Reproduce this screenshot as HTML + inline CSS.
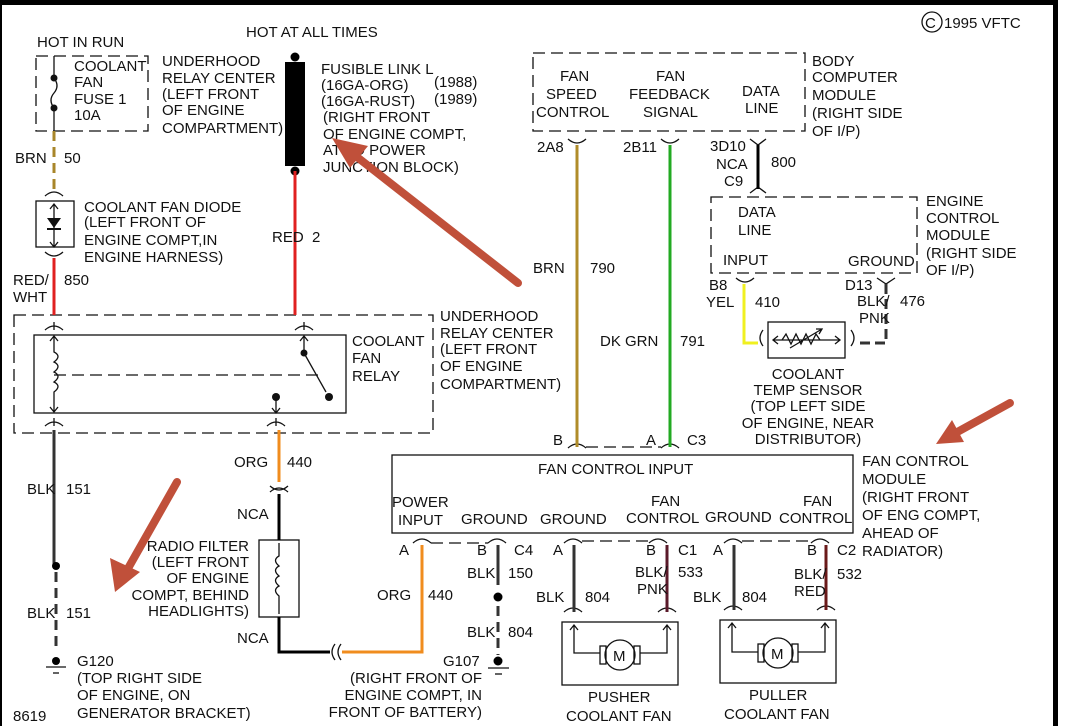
<!DOCTYPE html>
<html><head><meta charset="utf-8"><style>
html,body{margin:0;padding:0;background:#fff;}
svg{display:block;}
text{font-family:"Liberation Sans",sans-serif;font-size:15px;fill:#111;}
</style></head><body>
<svg width="1076" height="726" viewBox="0 0 1076 726" xmlns="http://www.w3.org/2000/svg">
<rect x="0" y="0" width="1076" height="726" fill="#fff"/>
<rect x="0" y="0" width="1058" height="5" fill="#000"/>
<rect x="1053" y="0" width="5" height="726" fill="#000"/>
<rect x="0" y="0" width="2" height="726" fill="#000"/>

<g fill="none" stroke="#111" stroke-width="1.3">
<path d="M36 56 H148 V131 H36 Z" stroke-dasharray="12,6"/>
<path d="M14 315 H433 V433 H14 Z" stroke-dasharray="12,6"/>
<path d="M533 53 H805 V131 H533 Z" stroke-dasharray="12,6"/>
<path d="M711 197 H917 V273 H711 Z" stroke-dasharray="12,6"/>
<rect x="36" y="201" width="38" height="46"/>
<rect x="34" y="335" width="312" height="78"/>
<rect x="259" y="540" width="40" height="77"/>
<rect x="392" y="455" width="461" height="78"/>
<rect x="562" y="622" width="116" height="63"/>
<rect x="720" y="620" width="116" height="63"/>
<rect x="768" y="322" width="77" height="36"/>
</g>

<g stroke="#111" stroke-width="1.3" fill="none">
<line x1="54" y1="56" x2="54" y2="78"/>
<path d="M54 78 q6 8 0 15 q-6 7 0 15"/>
<line x1="54" y1="108" x2="54" y2="131"/>
</g>
<circle cx="54" cy="78" r="3.5" fill="#111"/><circle cx="54" cy="108" r="3.5" fill="#111"/>
<line x1="54" y1="131" x2="54" y2="190" stroke="#a8862a" stroke-width="3" stroke-dasharray="10,6"/>
<g stroke="#111" stroke-width="1.3" fill="none">
<path d="M45 196 q9 -8 18 0"/>
<path d="M45 252 q9 8 18 0"/>
<path d="M54 204 V247 M50 209 L54 204 L58 209 M50 242 L54 247 L58 242"/>
</g>
<polygon points="47,218 61,218 54,228" fill="#111"/><line x1="47" y1="229" x2="61" y2="229" stroke="#111" stroke-width="2"/>
<line x1="54" y1="258" x2="54" y2="315" stroke="#e02020" stroke-width="3"/>

<rect x="285" y="62" width="20" height="104" fill="#000"/>
<circle cx="295" cy="57" r="4.5" fill="#000"/><circle cx="295" cy="171" r="4.5" fill="#000"/>
<line x1="295" y1="171" x2="295" y2="315" stroke="#e02020" stroke-width="3"/>

<g stroke="#111" stroke-width="1.3" fill="none">
<path d="M45 330 q9 -8 18 0 M54 322 V330"/>
<path d="M295 330 q9 -8 18 0 M304 322 V330"/>
<path d="M54 336 V352 q8 4 0 10 q8 4 0 10 q8 4 0 10 q8 4 0 10 V412 M50 341 L54 336 L58 341 M50 407 L54 412 L58 407"/>
<path d="M54 375 H318" stroke-dasharray="12,6"/>
<path d="M304 336 V353 M300 341 L304 336 L308 341"/>
<path d="M304 353 L326 392"/>
<path d="M276 397 V413 M272 408 L276 413 L280 408"/>
<path d="M45 426 q9 -8 18 0 M54 418 V426"/>
<path d="M267 426 q9 -8 18 0 M276 418 V426"/>
</g>
<circle cx="304" cy="353" r="3.5" fill="#111"/><circle cx="329" cy="397" r="4" fill="#111"/><circle cx="276" cy="397" r="4" fill="#111"/>

<line x1="54" y1="430" x2="54" y2="565" stroke="#333" stroke-width="3"/>
<circle cx="56" cy="566" r="4" fill="#000"/>
<line x1="56" y1="572" x2="56" y2="650" stroke="#333" stroke-width="3" stroke-dasharray="10,6"/>
<circle cx="56" cy="661" r="4" fill="#000"/>
<g stroke="#111" stroke-width="1.3"><line x1="46" y1="667" x2="66" y2="667"/><line x1="53" y1="673" x2="59" y2="673"/></g>

<line x1="279" y1="430" x2="279" y2="482" stroke="#f08c1e" stroke-width="3"/>
<g stroke="#111" stroke-width="1.3" fill="none"><path d="M270 486 q9 8 18 0 M270 492 q9 -8 18 0"/></g>
<polyline points="279,494 279,540" stroke="#000" stroke-width="3" fill="none"/>
<g stroke="#111" stroke-width="1.3" fill="none"><path d="M279 543 V556 q-7 4 0 10 q-7 4 0 10 q-7 4 0 10 q-7 4 0 10 V614"/></g>
<polyline points="279,617 279,652 330,652" stroke="#000" stroke-width="3" fill="none"/>
<g stroke="#111" stroke-width="1.3" fill="none"><path d="M335 644 q-6 8 0 16 M341 644 q-6 8 0 16"/></g>
<polyline points="342,652 422,652 422,545" stroke="#f08c1e" stroke-width="3" fill="none"/>

<g stroke="#111" stroke-width="1.3" fill="none">
<path d="M413 543 q9 -8 18 0 M488 543 q9 -8 18 0 M564 543 q9 -8 18 0 M649 543 q9 -8 18 0 M724 543 q9 -8 18 0 M811 543 q9 -8 18 0"/>
<path d="M431 543 H488 M582 541 H649 M742 541 H811" stroke-dasharray="12,6"/>
<path d="M564 612 q9 -8 18 0 M658 612 q9 -8 18 0 M724 610 q9 -8 18 0 M817 610 q9 -8 18 0"/>
</g>
<line x1="498" y1="545" x2="498" y2="585" stroke="#333" stroke-width="3"/>
<circle cx="498" cy="597" r="4.5" fill="#000"/>
<line x1="498" y1="606" x2="498" y2="655" stroke="#333" stroke-width="3" stroke-dasharray="10,6"/>
<circle cx="498" cy="661" r="4.5" fill="#000"/>
<g stroke="#111" stroke-width="1.3"><line x1="488" y1="668" x2="509" y2="668"/><line x1="495" y1="674" x2="502" y2="674"/></g>
<line x1="574" y1="545" x2="574" y2="612" stroke="#333" stroke-width="3"/>
<line x1="667" y1="545" x2="667" y2="612" stroke="#5a1a2a" stroke-width="3"/>
<line x1="734" y1="545" x2="734" y2="610" stroke="#333" stroke-width="3"/>
<line x1="826" y1="545" x2="826" y2="610" stroke="#6a1a1a" stroke-width="3"/>

<g stroke="#111" stroke-width="1.3" fill="none">
<path d="M574 625 V653 H600 M667 625 V653 H640 M570 630 L574 625 L578 630 M663 630 L667 625 L671 630"/>
<rect x="600" y="646" width="6" height="18"/><rect x="634" y="646" width="6" height="18"/>
<circle cx="620" cy="655" r="15"/>
<path d="M732 623 V652 H758 M825 623 V652 H798 M728 628 L732 623 L736 628 M821 628 L825 623 L829 628"/>
<rect x="758" y="644" width="6" height="18"/><rect x="792" y="644" width="6" height="18"/>
<circle cx="778" cy="653" r="15"/>
</g>
<text x="613" y="661">M</text><text x="771" y="659">M</text>

<g stroke="#111" stroke-width="1.3" fill="none">
<path d="M568 139 q9 8 18 0 M661 139 q9 8 18 0 M750 139 l8 6 l8 -6 M750 193 l8 -6 l8 6"/>
<path d="M568 448 q9 -8 18 0 M661 448 q9 -8 18 0"/>
<path d="M586 447 H661" stroke-dasharray="12,6"/>
<path d="M736 278 q9 8 18 0 M877 278 l9 6 l9 -6"/>
<path d="M763 330 q-6 8 0 16 M851 330 q6 8 0 16"/>
<path d="M773 340 H840 M778 336 L773 340 L778 344 M835 336 L840 340 L835 344 M782 340 l4 -6 l5 10 l5 -10 l5 10 l5 -10 l5 10 l5 -10 l4 6 M790 348 L822 329 M816 329 L822 329 L819 334"/>
</g>
<line x1="577" y1="145" x2="577" y2="447" stroke="#b08c2a" stroke-width="3"/>
<line x1="670" y1="145" x2="670" y2="447" stroke="#22aa22" stroke-width="3"/>
<line x1="758" y1="145" x2="758" y2="189" stroke="#000" stroke-width="3"/>
<polyline points="744,284 744,343 758,343" stroke="#f0f020" stroke-width="3" fill="none"/>
<polyline points="886,284 886,343 856,343" stroke="#333" stroke-width="3" fill="none" stroke-dasharray="10,5"/>

<circle cx="932" cy="22" r="10" fill="none" stroke="#111" stroke-width="1.3"/>
<text x="925" y="28">C</text><text x="944" y="28">1995 VFTC</text>

<text x="37" y="47">HOT IN RUN</text>
<text x="246" y="37">HOT AT ALL TIMES</text>
<text x="74" y="71">COOLANT</text><text x="74" y="87">FAN</text><text x="74" y="104">FUSE 1</text><text x="74" y="120">10A</text>
<text x="162" y="66">UNDERHOOD</text><text x="162" y="83">RELAY CENTER</text><text x="162" y="99">(LEFT FRONT</text><text x="162" y="115">OF ENGINE</text><text x="162" y="133">COMPARTMENT)</text>
<text x="321" y="74">FUSIBLE LINK L</text><text x="321" y="90">(16GA-ORG)</text><text x="434" y="87">(1988)</text>
<text x="321" y="106">(16GA-RUST)</text><text x="434" y="104">(1989)</text>
<text x="323" y="122">(RIGHT FRONT</text><text x="323" y="139">OF ENGINE COMPT,</text><text x="323" y="155">AT I/O POWER</text><text x="323" y="172">JUNCTION BLOCK)</text>
<text x="15" y="163">BRN</text><text x="64" y="163">50</text>
<text x="84" y="212">COOLANT FAN DIODE</text><text x="84" y="227">(LEFT FRONT OF</text><text x="84" y="245">ENGINE COMPT,IN</text><text x="84" y="262">ENGINE HARNESS)</text>
<text x="272" y="242">RED</text><text x="312" y="242">2</text>
<text x="13" y="285">RED/</text><text x="13" y="302">WHT</text><text x="64" y="285">850</text>
<text x="352" y="346">COOLANT</text><text x="352" y="363">FAN</text><text x="352" y="381">RELAY</text>
<text x="440" y="321">UNDERHOOD</text><text x="440" y="338">RELAY CENTER</text><text x="440" y="354">(LEFT FRONT</text><text x="440" y="371">OF ENGINE</text><text x="440" y="389">COMPARTMENT)</text>
<text x="27" y="494">BLK</text><text x="66" y="494">151</text>
<text x="27" y="618">BLK</text><text x="66" y="618">151</text>
<text x="77" y="666">G120</text><text x="77" y="683">(TOP RIGHT SIDE</text><text x="77" y="700">OF ENGINE, ON</text><text x="77" y="718">GENERATOR BRACKET)</text>
<text x="13" y="721">8619</text>
<text x="234" y="467">ORG</text><text x="287" y="467">440</text>
<text x="237" y="519">NCA</text><text x="237" y="643">NCA</text>
<g text-anchor="end">
<text x="249" y="551">RADIO FILTER</text>
<text x="249" y="567">(LEFT FRONT</text>
<text x="249" y="583">OF ENGINE</text>
<text x="249" y="600">COMPT, BEHIND</text>
<text x="249" y="616">HEADLIGHTS)</text>
</g>
<text x="377" y="600">ORG</text><text x="428" y="600">440</text>
<text x="443" y="666">G107</text>
<g text-anchor="end"><text x="482" y="683">(RIGHT FRONT OF</text><text x="482" y="700">ENGINE COMPT, IN</text><text x="482" y="717">FRONT OF BATTERY)</text></g>
<text x="538" y="474">FAN CONTROL INPUT</text>
<text x="392" y="507">POWER</text><text x="398" y="525">INPUT</text>
<text x="461" y="524">GROUND</text><text x="540" y="524">GROUND</text>
<text x="651" y="506">FAN</text><text x="626" y="523">CONTROL</text>
<text x="705" y="522">GROUND</text>
<text x="803" y="506">FAN</text><text x="779" y="523">CONTROL</text>
<text x="862" y="466">FAN CONTROL</text><text x="862" y="484">MODULE</text><text x="862" y="502">(RIGHT FRONT</text><text x="862" y="520">OF ENG COMPT,</text><text x="862" y="538">AHEAD OF</text><text x="862" y="556">RADIATOR)</text>
<text x="399" y="555">A</text><text x="477" y="555">B</text><text x="514" y="555">C4</text>
<text x="553" y="555">A</text><text x="646" y="555">B</text><text x="678" y="555">C1</text>
<text x="713" y="555">A</text><text x="807" y="555">B</text><text x="837" y="555">C2</text>
<text x="467" y="578">BLK</text><text x="508" y="578">150</text>
<text x="467" y="637">BLK</text><text x="508" y="637">804</text>
<text x="536" y="602">BLK</text><text x="585" y="602">804</text>
<text x="635" y="577">BLK/</text><text x="637" y="594">PNK</text><text x="678" y="577">533</text>
<text x="693" y="602">BLK</text><text x="742" y="602">804</text>
<text x="794" y="579">BLK/</text><text x="794" y="596">RED</text><text x="837" y="579">532</text>
<text x="588" y="702">PUSHER</text><text x="566" y="721">COOLANT FAN</text>
<text x="749" y="700">PULLER</text><text x="724" y="719">COOLANT FAN</text>
<text x="560" y="81">FAN</text><text x="546" y="99">SPEED</text><text x="536" y="117">CONTROL</text>
<text x="656" y="81">FAN</text><text x="629" y="99">FEEDBACK</text><text x="643" y="117">SIGNAL</text>
<text x="742" y="96">DATA</text><text x="745" y="113">LINE</text>
<text x="812" y="66">BODY</text><text x="812" y="82">COMPUTER</text><text x="812" y="100">MODULE</text><text x="812" y="118">(RIGHT SIDE</text><text x="812" y="136">OF I/P)</text>
<text x="537" y="152">2A8</text><text x="623" y="152">2B11</text>
<text x="710" y="151">3D10</text><text x="716" y="169">NCA</text><text x="724" y="186">C9</text><text x="771" y="167">800</text>
<text x="533" y="273">BRN</text><text x="590" y="273">790</text>
<text x="600" y="346">DK GRN</text><text x="680" y="346">791</text>
<text x="553" y="445">B</text><text x="646" y="445">A</text><text x="687" y="445">C3</text>
<text x="738" y="217">DATA</text><text x="738" y="235">LINE</text>
<text x="723" y="265">INPUT</text><text x="848" y="266">GROUND</text>
<text x="926" y="206">ENGINE</text><text x="926" y="223">CONTROL</text><text x="926" y="240">MODULE</text><text x="926" y="258">(RIGHT SIDE</text><text x="926" y="275">OF I/P)</text>
<text x="709" y="290">B8</text><text x="706" y="307">YEL</text><text x="755" y="307">410</text>
<text x="845" y="290">D13</text><text x="857" y="306">BLK/</text><text x="859" y="323">PNK</text><text x="900" y="306">476</text>
<g text-anchor="middle"><text x="808" y="379">COOLANT</text><text x="808" y="395">TEMP SENSOR</text><text x="808" y="411">(TOP LEFT SIDE</text><text x="808" y="428">OF ENGINE, NEAR</text><text x="808" y="444">DISTRIBUTOR)</text></g>

<g stroke="#c0503a" stroke-width="8" stroke-linecap="round" fill="none">
<line x1="518" y1="283" x2="348" y2="150"/>
<line x1="1010" y1="403" x2="950" y2="436"/>
<line x1="177" y1="482" x2="126" y2="572"/>
</g>
<polygon points="332,138 368,146 350,168" fill="#c0503a"/>
<polygon points="936,444 952,420 964,442" fill="#c0503a"/>
<polygon points="115,592 110,558 140,572" fill="#c0503a"/>
</svg>
</body></html>
